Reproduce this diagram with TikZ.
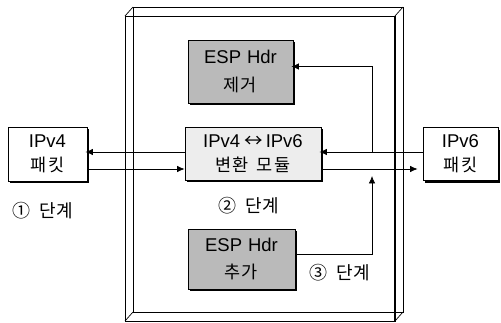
\documentclass[tikz,border=0pt]{standalone}
\usepackage{fontspec}
\setmainfont{Liberation Sans}
\newfontfamily\kr{Noto Sans CJK KR}
\usetikzlibrary{arrows.meta,shadows}
\begin{document}
\begin{tikzpicture}[x=1pt,y=-1pt,
  box/.style={draw=black,line width=0.8pt,inner sep=0pt,align=center,
    font=\fontsize{18.5}{24}\selectfont,
    drop shadow={shadow xshift=2.2pt,shadow yshift=-2.2pt,fill=black,opacity=1}},
  pkt/.style={box,fill=white},
  modbox/.style={box,fill=black!7},
  espbox/.style={box,fill=black!27},
  lbl/.style={inner sep=0pt,font=\fontsize{18}{20}\selectfont\kr},
  frame/.style={line width=0.7pt},
  arr/.style={line width=0.7pt,-{Latex[length=7.5pt,width=6.5pt]}},
  ln/.style={line width=0.7pt}]
\useasboundingbox (0,0) rectangle (501,323);
% transparent 3D box
\draw[frame] (125,16) rectangle (395,321);
\draw[frame] (133,7) rectangle (403,312);
\draw[frame] (125,16) -- (133,7) (395,16) -- (403,7) (395,321) -- (403,312) (125,321) -- (133,312);
\draw[line width=1.5pt] (395,16) -- (395,321);
% nodes
\node[pkt, minimum width=79pt, minimum height=54pt] (v4) at (47.5,154) {IPv4\\{\kr\fontsize{17.5}{20}\selectfont 패\hspace{2pt}킷}};
\node[modbox, minimum width=136pt, minimum height=53pt] (mod) at (253,153.5) {IPv4\hspace{4pt}{\kr ↔}\hspace{3pt}IPv6\\{\kr\fontsize{17.5}{20}\selectfont 변\hspace{1.5pt}환\hspace{8pt}모\hspace{1.5pt}듈}};
\node[pkt, minimum width=75pt, minimum height=53pt] (v6) at (460.5,154) {IPv6\\{\kr\fontsize{17.5}{20}\selectfont 패\hspace{2pt}킷}};
\node[espbox, minimum width=105pt, minimum height=63pt] (rm) at (240.5,71.5) {ESP\hspace{6pt}Hdr\\[4pt]{\kr\fontsize{17.5}{20}\selectfont 제\hspace{1pt}거}};
\node[espbox, minimum width=107pt, minimum height=60pt] (add) at (241.5,259) {ESP\hspace{6pt}Hdr\\[3pt]{\kr\fontsize{17.5}{20}\selectfont 추\hspace{1pt}가}};
\node[lbl] (s1) at (42.5,211) {①\hspace{9pt}단계};
\node[lbl] (s2) at (249,206) {②\hspace{9pt}단계};
\node[lbl] (s3) at (339.5,273) {③\hspace{9pt}단계};
% helper coordinates
\coordinate (y1) at (0,152);
\coordinate (y2) at (0,169);
\coordinate (j1) at (372,152);
\coordinate (j2) at (372,176);
% connectors
\draw[arr, shorten >=-2pt] (mod.west |- y1) -- (v4.east |- y1);
\draw[arr] (v4.east |- y2) -- (mod.west |- y2);
\draw[arr, shorten >=-2pt] (v6.west |- y1) -- (mod.east |- y1);
\draw[arr, shorten >=5pt] (mod.east |- y2) -- (v6.west |- y2);
\draw[arr, shorten >=-2pt] (j1) |- ([yshift=5pt]rm.east);
\draw[arr] ([yshift=5pt]add.east) -| (j2);
\end{tikzpicture}
\end{document}
